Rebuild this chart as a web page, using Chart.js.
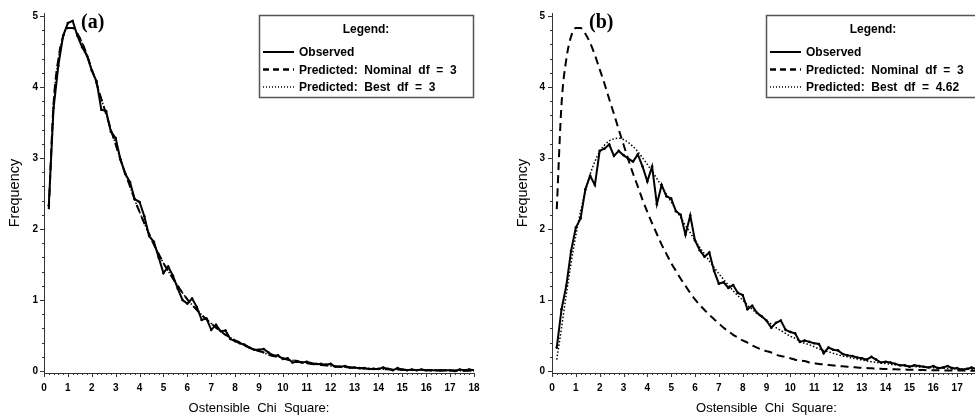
<!DOCTYPE html>
<html><head><meta charset="utf-8">
<script src="https://cdn.jsdelivr.net/npm/chart.js@4.4.0/dist/chart.umd.min.js"></script>
<style>
html,body{margin:0;padding:0;background:#fff;overflow:hidden;width:975px;height:416px;}
#wa{position:absolute;left:0;top:0;width:490px;height:416px;}
#wb{position:absolute;left:487px;top:0;width:510px;height:416px;}
</style></head><body>
<div id="wa"><canvas id="ca"></canvas></div>
<div id="wb"><canvas id="cb"></canvas></div>
<script>
const chiSquare = [0.2,0.4,0.6,0.8,1.0,1.2,1.4,1.6,1.8,2.0,
 2.2,2.4,2.6,2.8,3.0,3.2,3.4,3.6,3.8,4.0,
 4.2,4.4,4.6,4.8,5.0,5.2,5.4,5.6,5.8,6.0,
 6.2,6.4,6.6,6.8,7.0,7.2,7.4,7.6,7.8,8.0,
 8.2,8.4,8.6,8.8,9.0,9.2,9.4,9.6,9.8,10.0,
 10.2,10.4,10.6,10.8,11.0,11.2,11.4,11.6,11.8,12.0,
 12.2,12.4,12.6,12.8,13.0,13.2,13.4,13.6,13.8,14.0,
 14.2,14.4,14.6,14.8,15.0,15.2,15.4,15.6,15.8,16.0,
 16.2,16.4,16.6,16.8,17.0,17.2,17.4,17.6,17.8,18.0];

const observedA = [2.33,3.70,4.30,4.72,4.90,4.93,4.72,4.56,4.44,4.23,
 4.08,3.68,3.66,3.37,3.28,2.98,2.78,2.66,2.42,2.38,
 2.18,1.90,1.82,1.60,1.38,1.47,1.34,1.16,1.00,0.95,
 1.02,0.90,0.72,0.74,0.58,0.65,0.56,0.57,0.45,0.42,
 0.39,0.37,0.33,0.30,0.30,0.31,0.26,0.22,0.22,0.17,
 0.18,0.12,0.13,0.12,0.13,0.11,0.10,0.10,0.09,0.10,
 0.06,0.06,0.07,0.05,0.05,0.04,0.04,0.03,0.03,0.03,
 0.05,0.03,0.01,0.04,0.02,0.01,0.02,0.01,0.02,0.01,
 0.01,0.01,0.01,0.01,0.01,0.00,0.02,0.01,0.02,0.01];

const predictedNominal = [2.28,3.76,4.39,4.71,4.83,4.83,4.75,4.62,4.45,4.25,
 4.05,3.83,3.62,3.40,3.19,2.98,2.78,2.60,2.41,2.24,
 2.08,1.93,1.78,1.65,1.52,1.41,1.30,1.20,1.10,1.01,
 0.93,0.86,0.79,0.73,0.67,0.61,0.56,0.51,0.47,0.43,
 0.40,0.36,0.33,0.30,0.28,0.26,0.23,0.21,0.20,0.18,
 0.16,0.15,0.14,0.12,0.11,0.10,0.094,0.086,0.079,0.072,
 0.066,0.060,0.054,0.050,0.045,0.041,0.038,0.034,0.031,0.029,
 0.026,0.024,0.022,0.020,0.018,0.016,0.015,0.013,0.012,0.011,
 0.010,0.009,0.008,0.007,0.007,0.006,0.005,0.005,0.004,0.004];

const predictedBestA = [2.28,3.76,4.39,4.71,4.83,4.83,4.75,4.62,4.45,4.25,
 4.05,3.83,3.62,3.40,3.19,2.98,2.78,2.60,2.41,2.24,
 2.08,1.93,1.78,1.65,1.52,1.41,1.30,1.20,1.10,1.01,
 0.93,0.86,0.79,0.73,0.67,0.61,0.56,0.51,0.47,0.43,
 0.40,0.36,0.33,0.30,0.28,0.26,0.23,0.21,0.20,0.18,
 0.16,0.15,0.14,0.12,0.11,0.10,0.094,0.086,0.079,0.072,
 0.066,0.060,0.054,0.050,0.045,0.041,0.038,0.034,0.031,0.029,
 0.026,0.024,0.022,0.020,0.018,0.016,0.015,0.013,0.012,0.011,
 0.010,0.009,0.008,0.007,0.007,0.006,0.005,0.005,0.004,0.004];

const observedB = [0.33,0.87,1.20,1.69,2.02,2.15,2.56,2.75,2.62,3.10,
 3.13,3.19,3.03,3.10,3.04,2.99,2.95,3.05,2.88,2.67,
 2.88,2.35,2.62,2.46,2.43,2.25,2.20,1.92,2.19,1.84,
 1.70,1.61,1.67,1.41,1.23,1.25,1.17,1.21,1.10,1.07,
 0.87,0.92,0.82,0.77,0.71,0.61,0.68,0.71,0.58,0.55,
 0.53,0.41,0.43,0.41,0.39,0.38,0.25,0.33,0.30,0.29,
 0.24,0.22,0.21,0.19,0.18,0.16,0.20,0.16,0.12,0.13,
 0.12,0.10,0.08,0.08,0.06,0.08,0.07,0.06,0.05,0.07,
 0.04,0.05,0.07,0.04,0.04,0.02,0.03,0.05,0.03,0.04];

const predictedBestB = [0.16,0.61,1.08,1.52,1.91,2.25,2.53,2.77,2.95,3.09,
 3.18,3.24,3.27,3.28,3.26,3.22,3.16,3.09,3.00,2.91,
 2.81,2.71,2.60,2.49,2.38,2.27,2.16,2.05,1.95,1.84,
 1.74,1.65,1.55,1.46,1.37,1.29,1.21,1.13,1.06,1.00,
 0.93,0.87,0.81,0.76,0.71,0.66,0.61,0.57,0.53,0.49,
 0.46,0.42,0.39,0.37,0.34,0.31,0.29,0.27,0.25,0.23,
 0.21,0.20,0.18,0.17,0.155,0.143,0.132,0.122,0.113,0.104,
 0.096,0.088,0.081,0.074,0.069,0.063,0.058,0.053,0.049,0.045,
 0.041,0.038,0.035,0.032,0.029,0.027,0.025,0.023,0.021,0.019];

const xTickLabels = ['0','1','2','3','4','5','6','7','8','9','10','11','12','13','14','15','16','17','18'];
const yTickLabels = ['0','1','2','3','4','5'];
const seriesNames = ['Observed','Predicted:  Nominal  df  =  3'];
const bestNameA = 'Predicted:  Best  df  =  3';
const bestNameB = 'Predicted:  Best  df  =  4.62';
const panelA = '(a)', panelB = '(b)';
const xTitle = 'Ostensible  Chi  Square:';
const yTitle = 'Frequency';

const SANS = '"Liberation Sans", Arial, sans-serif';
const NARROW = '"Liberation Sans Narrow", "Liberation Sans", Arial, sans-serif';

function pts(arr){ return chiSquare.map((x,i)=>({x:x, y:arr[i]})); }

const decor = {
  id:'decor',
  afterDraw(chart){
    const o = chart.options.plugins.decor;
    const {ctx, chartArea:{left,right,top,bottom}, scales:{x,y}} = chart;
    ctx.save();
    ctx.strokeStyle = '#333'; ctx.lineWidth = 1;
    ctx.beginPath();
    for (let i=0;i<=90;i++){
      const v = i/5; const px = Math.round(x.getPixelForValue(v))+0.5;
      const len = (i%5===0)?4:2;
      ctx.moveTo(px,bottom); ctx.lineTo(px,bottom+len);
    }
    for (let i=0;i<=25;i++){
      const v = i/5; const py = Math.round(y.getPixelForValue(v))+0.5;
      const len = (i%5===0)?4:2;
      ctx.moveTo(left,py); ctx.lineTo(left-len,py);
    }
    ctx.stroke();
    ctx.fillStyle = '#000';
    ctx.font = 'bold 20px "Liberation Serif", "Times New Roman", serif';
    ctx.textBaseline = 'alphabetic'; ctx.textAlign = 'left';
    ctx.fillText(o.panel, left+37, 28);
    const bx = right-215, by = 15, bw = 214, bh = 82;
    ctx.strokeStyle = '#555'; ctx.lineWidth = 1.5;
    ctx.strokeRect(bx+0.5, by+0.5, bw, bh);
    ctx.font = 'bold 12px '+SANS; ctx.textAlign='center'; ctx.textBaseline='middle';
    ctx.fillText('Legend:', bx+bw/2, by+15);
    ctx.textAlign='left';
    o.rows.forEach((r,i)=>{
      const yy = by+37+i*17.5;
      ctx.save();
      ctx.strokeStyle='#000'; ctx.lineWidth=r.w; ctx.setLineDash(r.dash);
      ctx.beginPath(); ctx.moveTo(bx+4,yy); ctx.lineTo(bx+35,yy); ctx.stroke();
      ctx.restore();
      ctx.fillStyle='#000';
      ctx.fillText(r.label, bx+40, yy+1);
    });
    ctx.restore();
  }
};

function makeChart(id, obs, nominal, best, bestName, panel, yWidth, yTitlePad, yTickPad){
  return new Chart(document.getElementById(id), {
    type:'line',
    data:{datasets:[
      {label:bestName, data:pts(best), borderColor:'#000', borderWidth:1.5, borderDash:[1.5,2], pointRadius:0, tension:0.4, cubicInterpolationMode:'monotone', fill:false},
      {label:seriesNames[1], data:pts(nominal), borderColor:'#000', borderWidth:2, borderDash:[8,5], pointRadius:0, tension:0.4, cubicInterpolationMode:'monotone', fill:false},
      {label:seriesNames[0], data:pts(obs), borderColor:'#000', borderWidth:2, pointRadius:1.3, pointBackgroundColor:'#000', pointBorderWidth:0, tension:0, fill:false}
    ]},
    options:{
      responsive:true, maintainAspectRatio:false, animation:false,
      layout:{padding:{left:0,right:16,top:13,bottom:0}},
      plugins:{legend:{display:false}, tooltip:{enabled:false},
        decor:{panel:panel, rows:[
          {label:seriesNames[0], dash:[], w:2},
          {label:seriesNames[1], dash:[6,4], w:2.5},
          {label:bestName, dash:[1,2], w:1.5}
        ]}},
      scales:{
        x:{type:'linear', min:0, max:18,
          afterBuildTicks:(s)=>{ s.ticks = xTickLabels.map(t=>({value:Number(t)})); },
          afterFit:(s)=>{ s.height = 43; },
          grid:{display:false, drawTicks:false}, border:{display:true,color:'#333',width:1},
          ticks:{autoSkip:false, maxRotation:0, padding:9, color:'#000', font:{family:NARROW, size:10, weight:'bold'},
            callback:(v,i)=>xTickLabels[i]},
          title:{display:true, text:xTitle, color:'#000', font:{family:SANS,size:13}, padding:{top:0,bottom:0}}
        },
        y:{type:'linear', min:-0.028, max:5.042,
          afterBuildTicks:(s)=>{ s.ticks = yTickLabels.map(t=>({value:Number(t)})); },
          afterFit:(s)=>{ s.width = yWidth; },
          grid:{display:false, drawTicks:false}, border:{display:true,color:'#333',width:1},
          ticks:{padding:yTickPad, color:'#000', font:{family:SANS, size:10, weight:'bold'},
            callback:(v,i)=>yTickLabels[i]},
          title:{display:true, text:yTitle, color:'#000', font:{family:SANS,size:14.5}, padding:{top:yTitlePad,bottom:0}}
        }
      }
    },
    plugins:[decor]
  });
}

makeChart('ca', observedA, predictedNominal, predictedBestA, bestNameA, panelA, 44, 6, 6);
makeChart('cb', observedB, predictedNominal, predictedBestB, bestNameB, panelB, 65, 27, 7);
</script>
</body></html>
